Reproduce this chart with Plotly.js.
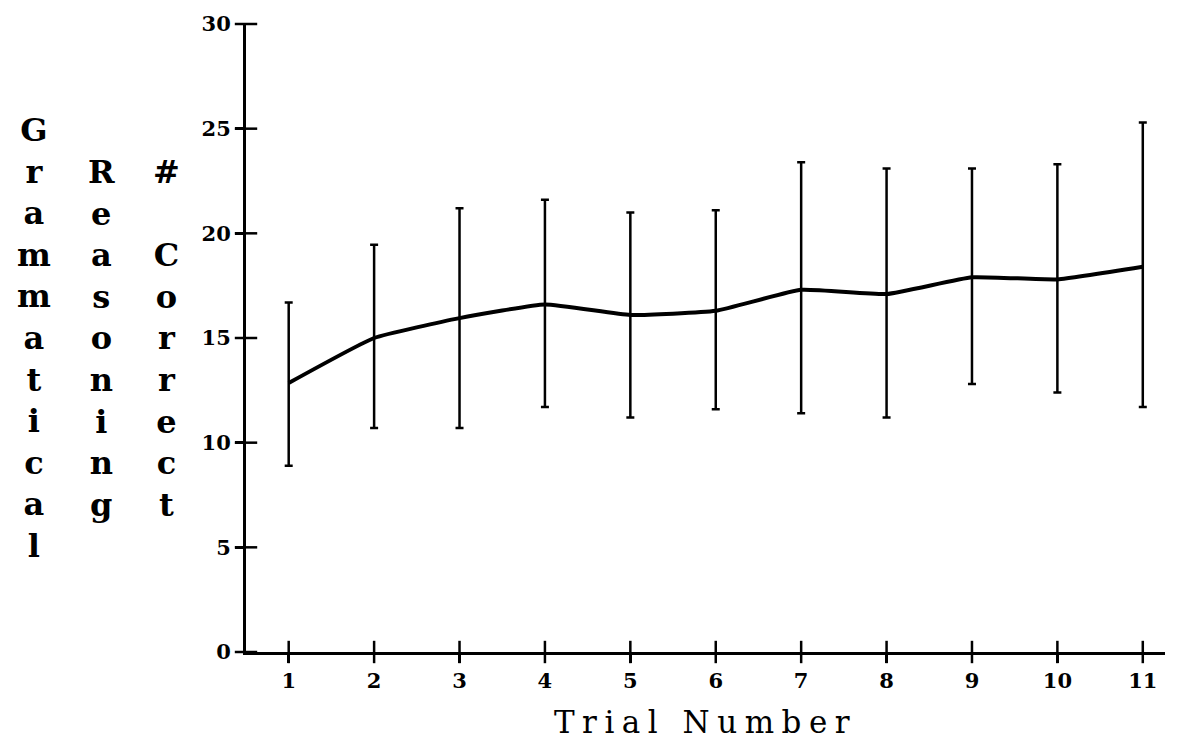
<!DOCTYPE html>
<html>
<head>
<meta charset="utf-8">
<script src="https://cdn.plot.ly/plotly-3.0.1.min.js"></script>
<style>
html,body{margin:0;padding:0;background:#fff;}
#chart{width:1180px;height:747px;}
.xtitle{letter-spacing:7.5px;}
</style>
</head>
<body>
<div id="chart"></div>
<script>
// Data
const trials = [1, 2, 3, 4, 5, 6, 7, 8, 9, 10, 11];
const meanCorrect = [12.85, 15.0, 15.95, 16.6, 16.1, 16.3, 17.3, 17.1, 17.9, 17.8, 18.4];
const upperBound = [16.7, 19.45, 21.2, 21.6, 21.0, 21.1, 23.4, 23.1, 23.1, 23.3, 25.3];
const lowerBound = [8.9, 10.7, 10.7, 11.7, 11.2, 11.6, 11.4, 11.2, 12.8, 12.4, 11.7];
const yTicks = [0, 5, 10, 15, 20, 25, 30];
const xTickLabels = ["1","2","3","4","5","6","7","8","9","10","11"];
const yTitleColumns = ["Grammatical", "Reasoning", "# Correct"];
const xTitle = "Trial Number";

const errPlus = meanCorrect.map((m, i) => upperBound[i] - m);
const errMinus = meanCorrect.map((m, i) => m - lowerBound[i]);

const FONT = "DejaVu Serif";
const X_MIN = 0.5, X_MAX = 11.26;
const TICK_COLOR = "#000";

const mainTrace = {
  x: trials, y: meanCorrect, type: "scatter", mode: "lines",
  line: {color: "#000", width: 4, shape: "spline", smoothing: 0.4},
  error_y: {type: "data", symmetric: false, array: errPlus, arrayminus: errMinus,
            color: "#000", thickness: 2.5, width: 4},
  hoverinfo: "skip", showlegend: false
};
// inner halves of the crossing tick marks
const xTickMarks = {
  x: trials, y: trials.map(() => 0), type: "scatter", mode: "markers",
  marker: {symbol: "line-ns-open", size: 16, color: TICK_COLOR, line: {color: TICK_COLOR, width: 2.5}},
  cliponaxis: false, hoverinfo: "skip", showlegend: false
};
const yTickMarks = {
  x: yTicks.map(() => X_MIN), y: yTicks, type: "scatter", mode: "markers",
  marker: {symbol: "line-ew-open", size: 16, color: TICK_COLOR, line: {color: TICK_COLOR, width: 2.5}},
  cliponaxis: false, hoverinfo: "skip", showlegend: false
};

function vert(word) { return word.split("").map(c => c === " " ? "&nbsp;" : c).join("<br>"); }
const colX = [34, 101, 166];
const colTop = [109, 151, 151];
const annotations = yTitleColumns.map((w, i) => ({
  text: vert(w), xref: "paper", yref: "paper",
  x: (colX[i] - 246) / (1165 - 246), y: (652 - colTop[i]) / (652 - 24),
  xanchor: "center", yanchor: "top", showarrow: false, align: "center",
  font: {family: FONT, size: 32, color: "#000", weight: "bold"}
}));

const layout = {
  width: 1180, height: 747,
  margin: {l: 246, r: 15, t: 24, b: 95},
  paper_bgcolor: "#fff", plot_bgcolor: "#fff",
  showlegend: false,
  xaxis: {
    range: [X_MIN, X_MAX], tickvals: trials, ticktext: xTickLabels,
    ticks: "outside", ticklen: 8, tickwidth: 2.5, tickcolor: "#000",
    showline: true, linewidth: 3, linecolor: "#000", showgrid: false, zeroline: false,
    tickfont: {family: FONT, size: 21, color: "#000", weight: "bold"},
    title: {text: xTitle, font: {family: FONT, size: 31, color: "#000"}, standoff: 20}
  },
  yaxis: {
    range: [0, 30], tickvals: yTicks,
    ticks: "outside", ticklen: 8, tickwidth: 2.5, tickcolor: "#000",
    showline: true, linewidth: 3, linecolor: "#000", showgrid: false, zeroline: false,
    tickfont: {family: FONT, size: 21, color: "#000", weight: "bold"}
  },
  annotations: annotations
};

Plotly.newPlot("chart", [mainTrace, xTickMarks, yTickMarks], layout, {displayModeBar: false, staticPlot: true});
</script>
</body>
</html>
